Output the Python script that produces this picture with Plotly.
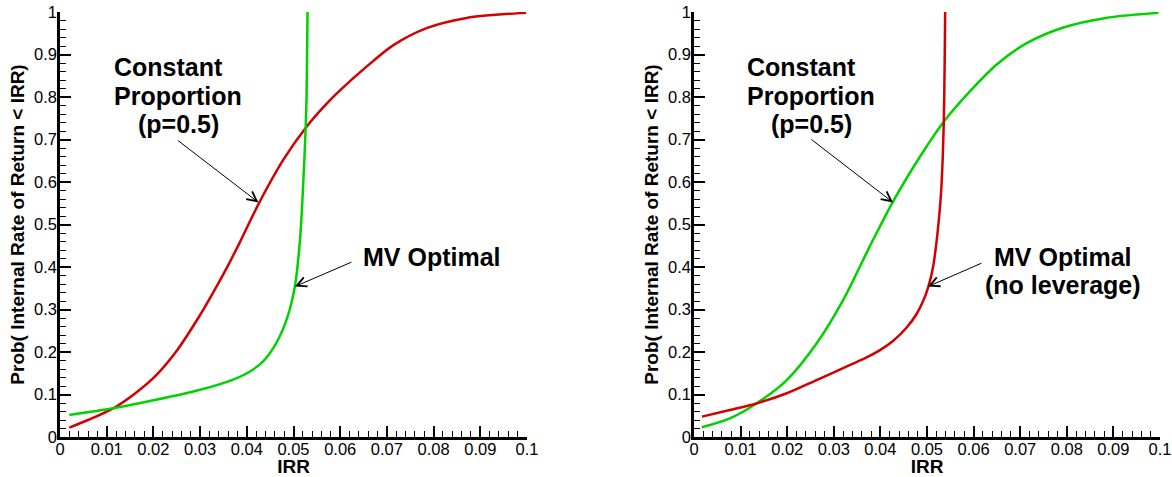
import plotly.graph_objects as go

# ---------------- data ----------------
irr_cp_left = [0.002, 0.006, 0.0114, 0.016, 0.0203, 0.025, 0.0296, 0.033, 0.036, 0.0385,
               0.0425, 0.0478, 0.0528, 0.057, 0.06, 0.0657, 0.0714, 0.0785, 0.0871, 0.0998]
prob_cp_left = [0.022, 0.040, 0.0675, 0.102, 0.142, 0.203, 0.280, 0.344, 0.404, 0.458,
                0.548, 0.652, 0.730, 0.783, 0.816, 0.872, 0.922, 0.962, 0.986, 0.998]

irr_mv_left = [0.002, 0.0114, 0.0203, 0.0296, 0.0368, 0.0405, 0.0435, 0.046, 0.0478, 0.0492,
               0.0503, 0.0514, 0.0521, 0.0526, 0.0528, 0.0529, 0.0530]
prob_mv_left = [0.052, 0.0675, 0.087, 0.11, 0.134, 0.153, 0.178, 0.215, 0.255, 0.30,
                0.354, 0.465, 0.600, 0.726, 0.80, 0.90, 1.0]

irr_cp_right = [0.0017, 0.0077, 0.0134, 0.0199, 0.0263, 0.032, 0.0377, 0.0427, 0.0491, 0.0536,
                0.0591, 0.0649, 0.0713, 0.0791, 0.0884, 0.0997]
prob_cp_right = [0.023, 0.044, 0.079, 0.134, 0.22, 0.322, 0.448, 0.554, 0.670, 0.742,
                 0.812, 0.876, 0.926, 0.963, 0.986, 0.998]

irr_mv_right = [0.0017, 0.0077, 0.0134, 0.0199, 0.0263, 0.032, 0.035, 0.0377, 0.040, 0.0427,
                0.0456, 0.0478, 0.0491, 0.0503, 0.0513, 0.052, 0.0527, 0.0531, 0.0536, 0.0538,
                0.0539]
prob_mv_right = [0.048, 0.0635, 0.079, 0.103, 0.134, 0.162, 0.177, 0.191, 0.205, 0.226,
                 0.257, 0.290, 0.318, 0.354, 0.400, 0.455, 0.530, 0.59, 0.74, 0.89,
                 1.0]

x_title = "IRR"
y_title = "Prob( Internal Rate of Return < IRR)"

RED = "rgb(210,0,0)"
GREEN = "rgb(0,210,0)"
FONT = "Liberation Sans, Arial, Helvetica, sans-serif"

fig = go.Figure()
def curve(x, y, color, xa, ya):
    fig.add_trace(go.Scatter(x=x, y=y, mode="lines",
                             line=dict(color=color, width=2.5, shape="spline", smoothing=0.8),
                             xaxis=xa, yaxis=ya))

curve(irr_cp_left, prob_cp_left, RED, "x", "y")
curve(irr_mv_left, prob_mv_left, GREEN, "x", "y")
curve(irr_cp_right, prob_cp_right, GREEN, "x2", "y2")
curve(irr_mv_right, prob_mv_right, RED, "x2", "y2")

W, H = 1172, 477

def xaxis_cfg(dom, anchor):
    return dict(domain=dom, anchor=anchor, range=[0, 0.1], tick0=0, dtick=0.01,
                automargin=False, ticklabelstandoff=-5,
                ticks="inside", ticklen=11, tickwidth=2, tickcolor="black",
                showline=True, linecolor="black", linewidth=2.5, showgrid=False,
                zeroline=False, tickfont=dict(family=FONT, size=16.5, color="black"),
                minor=dict(ticks="inside", ticklen=6, tickwidth=1.2, dtick=0.002,
                           tickcolor="black", showgrid=False),
                title=dict(text="<b>" + x_title + "</b>", standoff=5,
                           font=dict(family=FONT, size=19, color="black")))

def yaxis_cfg(dom, anchor):
    return dict(domain=dom, anchor=anchor, range=[0, 1], tick0=0, dtick=0.1,
                automargin=False, ticklabelstandoff=-3,
                ticks="inside", ticklen=11, tickwidth=2, tickcolor="black",
                showline=True, linecolor="black", linewidth=2.5, showgrid=False,
                zeroline=False, tickfont=dict(family=FONT, size=16.5, color="black"),
                minor=dict(ticks="inside", ticklen=6, tickwidth=1.2, dtick=0.02,
                           tickcolor="black", showgrid=False),
                title=dict(text="<b>" + y_title + "</b>", standoff=5,
                           font=dict(family=FONT, size=19, color="black")))

ydom = [1 - 437 / H, 1 - 12 / H]
fig.update_layout(
    width=W, height=H, showlegend=False,
    paper_bgcolor="white", plot_bgcolor="white",
    margin=dict(l=0, r=0, t=0, b=0, autoexpand=False),
    xaxis=xaxis_cfg([60 / W, 527 / W], "y"),
    yaxis=yaxis_cfg(ydom, "x"),
    xaxis2=xaxis_cfg([694 / W, 1160 / W], "y2"),
    yaxis2=yaxis_cfg(ydom, "x2"),
)

# pixel -> data helpers for label placement
def xl(px):
    return (px - 60) / 467.0 * 0.1

def xr(px):
    return (px - 694) / 466.0 * 0.1

def yd(py):
    return (437 - py) / 425.0

def label(text, x, y, xref, yref, xanchor="center"):
    fig.add_annotation(text="<b>" + text + "</b>", x=x, y=y, xref=xref, yref=yref,
                       xanchor=xanchor, yanchor="middle", showarrow=False,
                       font=dict(family=FONT, size=25, color="black"))

def arrow(x, y, ax, ay, xref, yref):
    fig.add_annotation(text="", x=x, y=y, xref=xref, yref=yref, ax=ax, ay=ay,
                       showarrow=True, arrowhead=5, arrowsize=1.9, arrowwidth=1,
                       arrowcolor="black")

# left panel
label("Constant", xl(111.7), yd(67), "x", "y", "left")
label("Proportion", xl(111.7), yd(95.5), "x", "y", "left")
label("(p=0.5)", xl(178), yd(123.5), "x", "y")
label("MV Optimal", xl(432), yd(256.5), "x", "y")
arrow(0.0425, 0.552, -82, -63, "x", "y")
arrow(0.0503, 0.354, 58, -25, "x", "y")

# right panel
label("Constant", xr(745), yd(67), "x2", "y2", "left")
label("Proportion", xr(745), yd(95.5), "x2", "y2", "left")
label("(p=0.5)", xr(811), yd(123.5), "x2", "y2")
label("MV Optimal", xr(1063), yd(256.5), "x2", "y2")
label("(no leverage)", xr(1063), yd(285), "x2", "y2")
arrow(0.0427, 0.552, -83, -64, "x2", "y2")
arrow(0.0502, 0.354, 55, -24, "x2", "y2")

fig.write_html(
    "out.html",
    config={"displayModeBar": False},
    post_script="document.documentElement.style.margin='0';"
                "document.body.style.margin='0';"
                "document.body.style.overflow='hidden';",
)
